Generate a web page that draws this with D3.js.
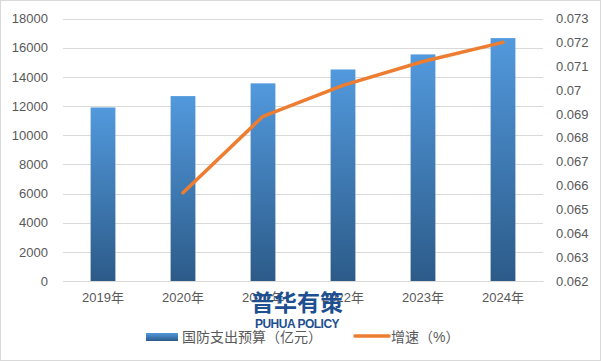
<!DOCTYPE html>
<html>
<head>
<meta charset="utf-8">
<script src="https://cdn.jsdelivr.net/npm/d3@7"></script>
<style>
  body { margin: 0; background: #fff; }
  text { font-family: "Liberation Sans", "Noto Sans CJK SC", sans-serif; }
</style>
</head>
<body>
<div id="chart"></div>
<script>
// data
var years = ["2019年", "2020年", "2021年", "2022年", "2023年", "2024年"];
var budget = [11899, 12680, 13553, 14505, 15537, 16655];
var growth = [null, 0.0657, 0.0689, 0.0702, 0.0712, 0.0720];
var leftTicks = [0, 2000, 4000, 6000, 8000, 10000, 12000, 14000, 16000, 18000];
var rightTicks = [0.062, 0.063, 0.064, 0.065, 0.066, 0.067, 0.068, 0.069, 0.07, 0.071, 0.072, 0.073];

var width = 601, height = 361;
// plot area (note: "top" is reserved on window, so use other names)
var plotL = 63, plotR = 543, plotT = 18.5, plotB = 281;

var svg = d3.select("#chart")
  .append("svg")
  .attr("width", width)
  .attr("height", height);

svg.append("rect")
  .attr("x", 0.5).attr("y", 0.5)
  .attr("width", width - 1).attr("height", height - 1)
  .attr("fill", "#fff")
  .attr("stroke", "#d9d9d9");

var defs = svg.append("defs");
var grad = defs.append("linearGradient")
  .attr("id", "barGrad")
  .attr("x1", 0).attr("y1", 0).attr("x2", 0).attr("y2", 1);
grad.append("stop").attr("offset", "0%").attr("stop-color", "#5299dd");
grad.append("stop").attr("offset", "100%").attr("stop-color", "#2c5b89");

var legGrad = defs.append("linearGradient")
  .attr("id", "legGrad")
  .attr("x1", 0).attr("y1", 0).attr("x2", 0).attr("y2", 1);
legGrad.append("stop").attr("offset", "0%").attr("stop-color", "#5299dd");
legGrad.append("stop").attr("offset", "100%").attr("stop-color", "#2c5b89");

var x = d3.scaleBand()
  .domain(years)
  .range([plotL, plotR])
  .paddingInner(0.69)
  .paddingOuter(0.345);

var y1 = d3.scaleLinear()
  .domain([0, 18000])
  .range([plotB, plotT]);

var y2 = d3.scaleLinear()
  .domain([0.062, 0.073])
  .range([plotB, plotT]);

// gridlines
svg.append("g")
  .selectAll("line")
  .data(leftTicks)
  .enter()
  .append("line")
  .attr("x1", plotL).attr("x2", plotR)
  .attr("y1", function (d) { return Math.round(y1(d)) + 0.5; })
  .attr("y2", function (d) { return Math.round(y1(d)) + 0.5; })
  .attr("stroke", "#d9d9d9")
  .attr("stroke-width", 1);

// left axis
var axL = svg.append("g")
  .attr("transform", "translate(" + (plotL - 8) + ",0)")
  .call(d3.axisLeft(y1).tickValues(leftTicks).tickSize(0).tickPadding(7).tickFormat(d3.format("d")));
axL.select(".domain").remove();
axL.selectAll("text").attr("fill", "#595959").style("font-size", "13px");

// right axis
var axR = svg.append("g")
  .attr("transform", "translate(" + (plotR + 6) + ",0)")
  .call(d3.axisRight(y2).tickValues(rightTicks).tickSize(0).tickPadding(7)
    .tickFormat(function (d) { return String(+d.toFixed(3)); }));
axR.select(".domain").remove();
axR.selectAll("text").attr("fill", "#595959").style("font-size", "13px");

// bars
svg.append("g")
  .selectAll("rect")
  .data(budget)
  .enter()
  .append("rect")
  .attr("x", function (d, i) { return x(years[i]); })
  .attr("y", function (d) { return y1(d); })
  .attr("width", x.bandwidth())
  .attr("height", function (d) { return y1(0) - y1(d); })
  .attr("fill", "url(#barGrad)");

// bottom axis
var axB = svg.append("g")
  .attr("transform", "translate(0," + plotB + ")")
  .call(d3.axisBottom(x).tickSize(0).tickPadding(12));
axB.select(".domain").attr("stroke", "#d9d9d9");
axB.selectAll("text").attr("fill", "#595959").style("font-size", "13px");

// growth line
svg.append("path")
  .datum(growth.map(function (v, i) { return { year: years[i], v: v }; }).filter(function (d) { return d.v != null; }))
  .attr("fill", "none")
  .attr("stroke", "#ed7d31")
  .attr("stroke-width", 3.5)
  .attr("stroke-linecap", "round")
  .attr("stroke-linejoin", "round")
  .attr("d", d3.line()
    .x(function (d) { return x(d.year) + x.bandwidth() / 2; })
    .y(function (d) { return y2(d.v); })
  );

// legend
svg.append("rect")
  .attr("x", 146).attr("y", 333)
  .attr("width", 32).attr("height", 8)
  .attr("fill", "url(#legGrad)");
svg.append("text")
  .attr("x", 182).attr("y", 342)
  .attr("fill", "#595959")
  .style("font-size", "14px")
  .text("国防支出预算（亿元）");

svg.append("line")
  .attr("x1", 355).attr("x2", 389)
  .attr("y1", 336).attr("y2", 336)
  .attr("stroke", "#ed7d31")
  .attr("stroke-width", 3.5)
  .attr("stroke-linecap", "round");
svg.append("text")
  .attr("x", 391).attr("y", 342)
  .attr("fill", "#595959")
  .style("font-size", "14px")
  .text("增速（%）");

// watermark
svg.append("text")
  .attr("x", 297).attr("y", 311)
  .attr("text-anchor", "middle")
  .attr("fill", "#1d4f91")
  .style("font-size", "23px")
  .style("font-weight", "bold")
  .style("font-family", "Noto Sans CJK SC")
  .text("普华有策");
svg.append("text")
  .attr("x", 297).attr("y", 328)
  .attr("text-anchor", "middle")
  .attr("fill", "#1d4f91")
  .style("font-size", "12px")
  .style("font-weight", "bold")
  .style("letter-spacing", "-0.5px")
  .text("PUHUA POLICY");
</script>
</body>
</html>
